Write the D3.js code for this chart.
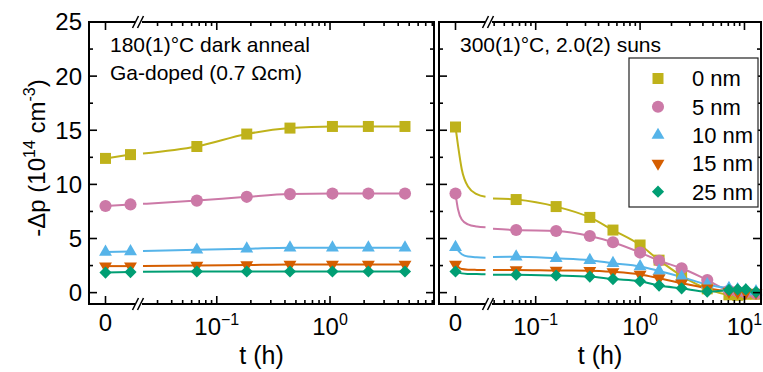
<!DOCTYPE html>
<html>
<head>
<meta charset="utf-8">
<script src="https://cdn.jsdelivr.net/npm/d3@7"></script>
<style>
  body { margin: 0; background: #fff; }
  svg { display: block; font-family: 'Liberation Sans', Arial, sans-serif; }
</style>
</head>
<body>
<div id="chart"></div>
<script>
// ---- data ----
const seriesNames = ['0 nm', '5 nm', '10 nm', '15 nm', '25 nm'];

// left panel: 180 C dark anneal
const darkT = [0, 0.01, 0.0667, 0.184, 0.443, 1.05, 2.18, 4.59];
const dark0 = [12.4, 12.75, 13.5, 14.65, 15.2, 15.35, 15.35, 15.35];
const dark5 = [8.0, 8.15, 8.5, 8.85, 9.1, 9.15, 9.15, 9.15];
const dark10 = [3.75, 3.8, 3.95, 4.05, 4.15, 4.15, 4.15, 4.15];
const dark15 = [2.45, 2.45, 2.5, 2.55, 2.6, 2.6, 2.6, 2.6];
const dark25 = [1.85, 1.9, 1.95, 1.95, 1.95, 1.95, 1.95, 1.95];
// fit value where the line resumes after the axis break
const darkFitBreak = [12.85, 8.2, 3.85, 2.45, 1.92];

// right panel: 300 C, 2.0 suns
const lightT = [0, 0.065, 0.157, 0.33, 0.55, 1.0, 1.52, 2.5, 4.4, 7.1, 8.6, 10.3, 12.9];
const light0 = [15.3, 8.6, 7.95, 6.95, 5.78, 4.4, 3.0, 1.55, 0.35, -0.2, -0.25, -0.15, -0.15];
const light5 = [9.15, 5.78, 5.7, 5.23, 4.65, 3.7, 2.95, 2.25, 1.17, 0.2, 0.1, 0.0, -0.1];
const light10 = [4.2, 3.32, 3.17, 3.0, 2.72, 2.42, 2.0, 1.45, 0.75, 0.4, 0.3, 0.2, 0.1];
const light15 = [2.6, 2.1, 2.05, 2.03, 1.92, 1.68, 1.33, 0.87, 0.4, 0.1, 0.05, 0.0, 0.0];
const light25 = [1.95, 1.65, 1.58, 1.48, 1.25, 1.05, 0.65, 0.4, 0.1, 0.25, 0.3, 0.3, 0.05];
// fitted decay drawn on the linear (t ~ 0) part of the axis
const lightFitT = [0, 0.001, 0.0025, 0.005, 0.0085, 0.012];
const lightFit0 = [15.3, 13.6, 11.4, 9.8, 9.1, 8.86];
const lightFit5 = [9.15, 7.7, 6.75, 6.3, 6.1, 6.03];
const lightFit10 = [4.2, 3.9, 3.55, 3.33, 3.26, 3.23];
const lightFit15 = [2.6, 2.4, 2.18, 2.12, 2.1, 2.09];
const lightFit25 = [1.95, 1.88, 1.78, 1.73, 1.71, 1.7];
const lightFitBreak = [8.7, 5.9, 3.3, 2.09, 1.65];

const yMajor = [0, 5, 10, 15, 20, 25];
const yMinor = [2.5, 7.5, 12.5, 17.5, 22.5];

// ---- styles ----
const colors = ['#bfb21a', '#cc79a7', '#56b4e9', '#d55e00', '#009e73'];
const shapes = ['square', 'circle', 'triangle', 'down', 'diamond'];

const W = 763, H = 372;
const svg = d3.select('#chart').append('svg').attr('width', W).attr('height', H);

const y = d3.scaleLinear().domain([-1.05, 25]).range([304, 22]);
const yTop = 22, yBot = 304;
const linDomain = [-0.0066, 0.0138];
const breakOff = 51;

function symbolPath(shape) {
  if (shape === 'square') return d3.symbol(d3.symbolSquare, 121)();
  if (shape === 'circle') return d3.symbol(d3.symbolCircle, 115)();
  if (shape === 'triangle') return d3.symbol(d3.symbolTriangle, 72)();
  if (shape === 'down') return d3.symbol(d3.symbolTriangle, 72)();
  return d3.symbol(d3.symbolSquare, 74)();
}
function symbolRot(shape) {
  if (shape === 'down') return ' rotate(180)';
  if (shape === 'diamond') return ' rotate(45)';
  return '';
}

function drawPanel(p) {
  const g = svg.append('g');
  const lin = d3.scaleLinear().domain(linDomain).range([p.x0, p.x0 + breakOff]);
  const lg = d3.scaleLog().domain(p.logDomain).range([p.x0 + breakOff, p.x1]);
  const xOf = t => (t <= linDomain[1] ? lin(t) : lg(t));

  // lines
  const line = d3.line().x(d => d[0]).y(d => y(d[1])).curve(d3.curveMonotoneX);
  const tStart = lg.invert(p.x0 + breakOff + 3);
  p.series.forEach((s, i) => {
    let segA;
    if (p.fitT) segA = p.fitT.map((t, j) => [lin(t), p.fit[i][j]]);
    else segA = p.t.map((t, j) => [t, s[j]]).filter(d => d[0] <= linDomain[1]).map(d => [lin(d[0]), d[1]]);
    const segB = [[lg(tStart), p.fitBreak[i]]].concat(
      p.t.map((t, j) => [t, s[j]]).filter(d => d[0] > linDomain[1]).map(d => [lg(d[0]), d[1]]));
    [segA, segB].forEach(seg => {
      g.append('path').attr('d', line(seg)).attr('fill', 'none')
        .attr('stroke', colors[i]).attr('stroke-width', 2);
    });
  });

  // markers
  p.series.forEach((s, i) => {
    g.selectAll(null).data(p.t.map((t, j) => [t, s[j]])).enter()
      .append('path')
      .attr('d', symbolPath(shapes[i]))
      .attr('transform', d => `translate(${xOf(d[0])},${y(d[1])})` + symbolRot(shapes[i]))
      .attr('fill', colors[i]);
  });

  // frame
  g.append('rect').attr('x', p.x0).attr('y', yTop).attr('width', p.x1 - p.x0).attr('height', yBot - yTop)
    .attr('fill', 'none').attr('stroke', '#000').attr('stroke-width', 2);

  // y ticks on both sides
  const tickG = g.append('g').attr('stroke', '#000').attr('stroke-width', 1.6);
  [[yMajor, 8], [yMinor, 4]].forEach(([vals, len]) => {
    vals.forEach(v => {
      tickG.append('line').attr('x1', p.x0).attr('x2', p.x0 + len).attr('y1', y(v)).attr('y2', y(v));
      tickG.append('line').attr('x1', p.x1).attr('x2', p.x1 - len).attr('y1', y(v)).attr('y2', y(v));
    });
  });
  // x ticks top and bottom
  const logTicks = lg.ticks().filter(t => t >= p.logDomain[0] && t <= p.logDomain[1]);
  const isPow = t => Math.abs(Math.log10(t) - Math.round(Math.log10(t))) < 1e-6;
  const xt = [[lin(0), 8]].concat(logTicks.map(t => [lg(t), isPow(t) ? 8 : 4]));
  xt.forEach(([x, len]) => {
    tickG.append('line').attr('x1', x).attr('x2', x).attr('y1', yBot).attr('y2', yBot - len);
    tickG.append('line').attr('x1', x).attr('x2', x).attr('y1', yTop).attr('y2', yTop + len);
  });

  // axis break marks
  const bx = p.x0 + breakOff - 2;
  [yTop, yBot].forEach(yy => {
    g.append('rect').attr('x', bx - 3).attr('y', yy - 2).attr('width', 7).attr('height', 4).attr('fill', '#fff');
    [-2.5, 2.5].forEach(dx => {
      g.append('line').attr('x1', bx + dx - 3).attr('y1', yy + 6).attr('x2', bx + dx + 3).attr('y2', yy - 6)
        .attr('stroke', '#000').attr('stroke-width', 1.6);
    });
  });

  // x tick labels
  g.append('text').attr('x', lin(0)).attr('y', 331).attr('text-anchor', 'middle')
    .attr('font-size', 24).text('0');
  logTicks.filter(isPow).forEach(t => {
    const e = Math.round(Math.log10(t));
    const tx = g.append('text').attr('x', lg(t)).attr('y', 335).attr('text-anchor', 'middle').attr('font-size', 24);
    tx.append('tspan').text('10');
    tx.append('tspan').attr('dy', -10).attr('font-size', 16).text(e < 0 ? '\u2212' + (-e) : String(e));
  });
  g.append('text').attr('x', (p.x0 + p.x1) / 2).attr('y', 364).attr('text-anchor', 'middle')
    .attr('font-size', 25).text('t (h)');

  // annotations
  p.notes.forEach((n, k) => {
    g.append('text').attr('x', p.x0 + 21).attr('y', 52 + 28 * k).attr('font-size', 21).text(n);
  });
  return g;
}

const dark = [dark0, dark5, dark10, dark15, dark25];
const light = [light0, light5, light10, light15, light25];
const lightFit = [lightFit0, lightFit5, lightFit10, lightFit15, lightFit25];

drawPanel({ x0: 89, x1: 434, logDomain: [0.021, 8.28], t: darkT, series: dark,
  fitBreak: darkFitBreak, notes: ['180(1)\u00b0C dark anneal', 'Ga-doped (0.7 \u03a9cm)'] });
drawPanel({ x0: 439, x1: 761, logDomain: [0.0365, 14.4], t: lightT, series: light,
  fitT: lightFitT, fit: lightFit, fitBreak: lightFitBreak, notes: ['300(1)\u00b0C, 2.0(2) suns'] });

// y tick labels
svg.append('g').selectAll('text').data(yMajor).enter().append('text')
  .attr('x', 82).attr('y', d => y(d)).attr('dy', '0.35em').attr('text-anchor', 'end')
  .attr('font-size', 24).text(d => d);

// y axis title
const yt = svg.append('text').attr('transform', 'translate(45,158) rotate(-90)')
  .attr('text-anchor', 'middle').attr('font-size', 24);
yt.append('tspan').text('-\u0394p (10');
yt.append('tspan').attr('dy', -10).attr('font-size', 16).text('14');
yt.append('tspan').attr('dy', 10).text(' cm');
yt.append('tspan').attr('dy', -10).attr('font-size', 16).text('-3');
yt.append('tspan').attr('dy', 10).text(')');

// legend
const lgd = svg.append('g');
lgd.append('rect').attr('x', 629).attr('y', 58).attr('width', 129).attr('height', 149)
  .attr('fill', '#fff').attr('stroke', '#222').attr('stroke-width', 1.2);
seriesNames.forEach((name, i) => {
  const yy = 78.5 + 28.3 * i;
  lgd.append('path').attr('d', symbolPath(shapes[i]))
    .attr('transform', `translate(658,${yy})` + symbolRot(shapes[i])).attr('fill', colors[i]);
  lgd.append('text').attr('x', 692).attr('y', yy).attr('dy', '0.36em').attr('font-size', 22).text(name);
});
</script>
</body>
</html>
